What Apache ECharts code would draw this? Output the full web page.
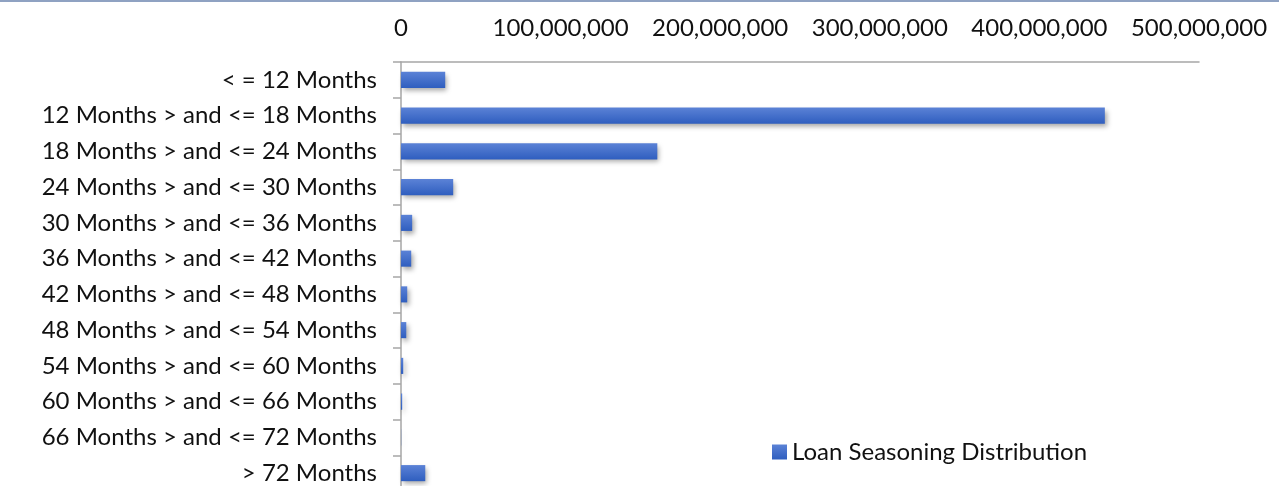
<!DOCTYPE html>
<html><head><meta charset="utf-8">
<script src="https://cdn.jsdelivr.net/npm/echarts@6/dist/echarts.min.js"></script>
<style>html,body{margin:0;padding:0;background:#fff;}#c{width:1279px;height:486px;}</style>
</head><body><div id="c"></div>
<script>
const categories = ["< = 12 Months","12 Months > and <= 18 Months","18 Months > and <= 24 Months","24 Months > and <= 30 Months","30 Months > and <= 36 Months","36 Months > and <= 42 Months","42 Months > and <= 48 Months","48 Months > and <= 54 Months","54 Months > and <= 60 Months","60 Months > and <= 66 Months","66 Months > and <= 72 Months","> 72 Months"];
const values = [27700000, 441000000, 160600000, 32700000, 7000000, 6400000, 3900000, 3300000, 1400000, 750000, 100000, 15200000];
const xTicks = [0, 100000000, 200000000, 300000000, 400000000, 500000000];
const seriesName = "Loan Seasoning Distribution";
const font = "Lato, 'Open Sans', sans-serif";
const chart = echarts.init(document.getElementById('c'));
chart.setOption({
  animation: false,
  graphic: [{type:'rect', shape:{x:0,y:0,width:1279,height:2}, style:{fill:'#8fa2c2'}}],
  grid: {left: 401, right: 80, top: 62, height: 429, outerBoundsMode: 'none', containLabel: false},
  legend: {
    left: 772, top: 440, padding: 0, itemWidth: 15, itemHeight: 15, itemGap: 7,
    icon: 'rect',
    textStyle: {fontFamily: font, fontSize: 24, color: '#111'},
    data: [seriesName]
  },
  xAxis: {
    type: 'value', position: 'top', min: xTicks[0], max: xTicks[xTicks.length-1], interval: 100000000,
    axisLine: {show: true, lineStyle: {color: '#a6a6a6', width: 1.5}},
    axisTick: {show: false},
    splitLine: {show: false},
    axisLabel: {margin: 22, fontFamily: font, fontSize: 24, color: '#111',
      formatter: v => v.toLocaleString('en-US')}
  },
  yAxis: {
    type: 'category', inverse: true, data: categories,
    axisLine: {show: true, lineStyle: {color: '#a6a6a6', width: 1.5}},
    axisTick: {show: true, length: 8, lineStyle: {color: '#a6a6a6', width: 1.5}},
    axisLabel: {margin: 24, fontFamily: font, fontSize: 24, color: '#111'}
  },
  series: [{
    name: seriesName, type: 'bar', data: values, barWidth: '45%',
    itemStyle: {
      color: new echarts.graphic.LinearGradient(0,0,0,1,[{offset:0,color:'#5b82d6'},{offset:1,color:'#2f5ebf'}]),
      shadowColor: 'rgba(0,0,0,0.35)', shadowBlur: 5, shadowOffsetX: 2, shadowOffsetY: 3
    }
  }]
});
</script></body></html>
